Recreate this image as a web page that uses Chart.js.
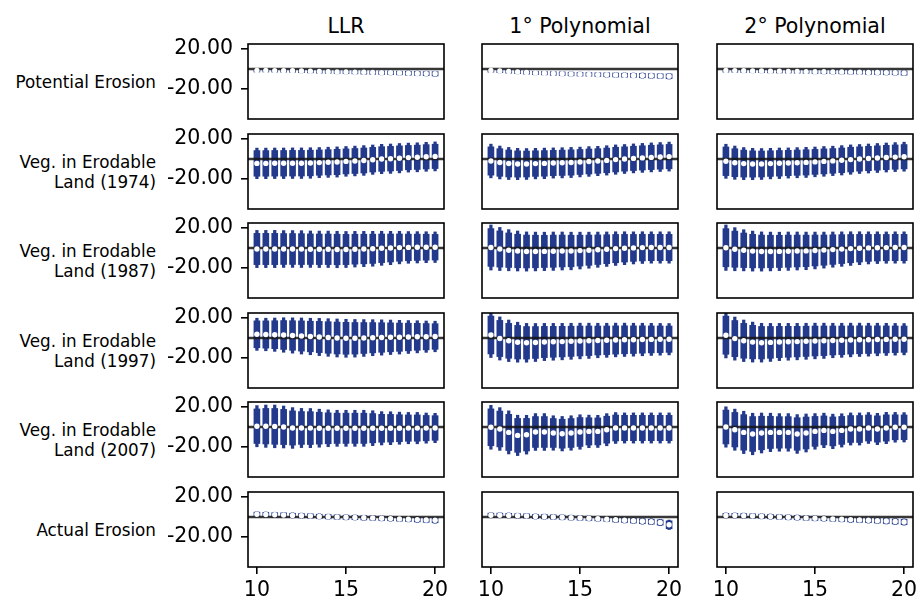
<!DOCTYPE html>
<html><head><meta charset="utf-8">
<script src="https://cdn.jsdelivr.net/npm/chart.js@4/dist/chart.umd.min.js"></script>
<style>
body{margin:0;background:#fff;width:919px;height:603px;position:relative;overflow:hidden;font-family:'DejaVu Sans',sans-serif;color:#000;}
.pan{position:absolute;}
.ct{position:absolute;font-size:20.5px;line-height:24px;text-align:center;width:196px;top:14px;white-space:nowrap;}
.rl{position:absolute;font-size:16.8px;line-height:20px;text-align:right;right:763px;transform:translateY(-50%);white-space:nowrap;}
</style></head><body>
<script>
// ---------- data ----------
const xs = [10,10.5,11,11.5,12,12.5,13,13.5,14,14.5,15,15.5,16,16.5,17,17.5,18,18.5,19,19.5,20];
const xTickVals = [10,15,20];
const yTickVals = [-20,20];
const colTitles = ['LLR','1° Polynomial','2° Polynomial'];
const rowLabels = ['Potential Erosion','Veg. in Erodable\nLand (1974)','Veg. in Erodable\nLand (1987)','Veg. in Erodable\nLand (1997)','Veg. in Erodable\nLand (2007)','Actual Erosion'];

// Potential Erosion
const potEstLLR = [-1.5,-1.5,-1.6,-1.7,-1.8,-2.0,-2.2,-2.5,-2.7,-2.9,-3.0,-3.2,-3.3,-3.5,-3.7,-3.8,-4.0,-4.2,-4.4,-4.6,-4.8];
const potSeLLR  = [0.9,0.9,0.9,0.9,0.9,1.0,1.0,1.0,1.0,1.0,1.0,1.0,1.1,1.1,1.1,1.1,1.1,1.2,1.2,1.2,1.3];
const potEstP1  = [-1.5,-2.0,-2.5,-3.0,-3.5,-4.0,-4.2,-4.5,-4.7,-5.0,-5.2,-5.4,-5.6,-5.8,-6.0,-6.2,-6.4,-6.6,-6.8,-7.0,-7.3];
const potSeP1   = [1.0,1.0,1.0,1.0,1.0,1.0,1.0,1.1,1.1,1.1,1.1,1.1,1.1,1.2,1.2,1.2,1.2,1.3,1.3,1.3,1.4];
const potEstP2  = [-1.5,-1.6,-1.8,-1.9,-2.0,-2.2,-2.3,-2.4,-2.5,-2.6,-2.7,-2.8,-2.9,-3.0,-3.1,-3.2,-3.4,-3.5,-3.6,-3.8,-4.0];
const potSeP2   = [1.0,1.0,1.0,1.0,1.0,1.0,1.0,1.0,1.0,1.0,1.1,1.1,1.1,1.1,1.1,1.1,1.2,1.2,1.2,1.2,1.3];
// Veg. 1974
const v74EstLLR = [-4.4,-4.4,-4.3,-4.3,-4.2,-4.2,-4.0,-3.6,-3.3,-3.0,-2.4,-2.0,-1.5,-0.7,0.0,0.3,0.8,1.4,1.7,2.2,2.6];
const v74SeLLR  = [7.8,7.8,7.8,7.8,7.8,7.8,7.8,7.7,7.7,7.7,7.6,7.6,7.6,7.5,7.5,7.5,7.5,7.4,7.4,7.4,7.4];
const v74EstP1  = [-2.0,-3.5,-4.5,-5.0,-5.0,-4.6,-4.4,-4.0,-3.8,-3.5,-3.0,-2.5,-2.0,-1.4,-0.6,0.0,0.6,1.1,1.6,2.0,2.4];
const v74SeP1   = [8.6,8.4,8.2,8.0,7.9,7.8,7.8,7.7,7.7,7.7,7.6,7.6,7.5,7.5,7.5,7.4,7.4,7.4,7.4,7.4,7.4];
const v74EstP2  = [-2.3,-3.7,-4.6,-5.0,-5.0,-4.6,-4.3,-4.0,-3.7,-3.4,-2.9,-2.4,-1.9,-1.3,-0.6,0.0,0.5,1.0,1.5,1.9,2.3];
const v74SeP2   = [8.7,8.5,8.2,8.0,7.9,7.8,7.8,7.7,7.7,7.7,7.6,7.6,7.5,7.5,7.5,7.4,7.4,7.4,7.4,7.4,7.4];
// Veg. 1987
const v87EstLLR = [-1.0,-1.0,-1.0,-1.0,-1.0,-1.1,-1.2,-1.3,-1.3,-1.5,-1.5,-1.2,-1.0,-0.8,-0.3,0.0,0.4,0.6,0.7,0.8,0.8];
const v87SeLLR  = [9.5,9.5,9.5,9.4,9.4,9.4,9.3,9.3,9.3,9.3,9.2,9.1,9.0,8.9,8.7,8.5,8.3,8.1,8.0,7.9,7.8];
const v87EstP1  = [0.5,-1.0,-2.2,-3.0,-3.5,-3.5,-3.4,-3.2,-3.0,-3.0,-2.6,-2.2,-1.7,-1.2,-0.6,-0.2,0.1,0.4,0.5,0.5,0.5];
const v87SeP1   = [11.5,11.0,10.5,10.2,10.0,9.9,9.8,9.8,9.7,9.6,9.4,9.2,9.0,8.8,8.6,8.4,8.2,8.1,8.0,8.0,8.0];
const v87EstP2  = [0.3,-1.2,-2.3,-3.1,-3.5,-3.5,-3.4,-3.2,-3.0,-2.9,-2.5,-2.1,-1.6,-1.1,-0.6,-0.2,0.1,0.3,0.4,0.5,0.5];
const v87SeP2   = [11.6,11.0,10.5,10.2,10.0,9.9,9.8,9.8,9.7,9.6,9.4,9.2,9.0,8.8,8.6,8.4,8.2,8.1,8.0,8.0,8.0];
// Veg. 1997
const v97EstLLR = [3.7,3.5,3.3,3.0,2.5,2.0,1.5,1.0,0.5,0.0,-0.3,-0.3,0.0,0.3,0.5,0.7,0.8,1.0,1.2,1.3,1.5];
const v97SeLLR  = [8.2,8.3,8.5,8.8,9.0,9.2,9.3,9.5,9.6,9.7,9.7,9.6,9.4,9.2,9.0,8.8,8.6,8.4,8.2,8.0,7.8];
const v97EstP1  = [3.0,-0.5,-2.8,-4.2,-4.8,-4.5,-4.0,-3.8,-3.6,-3.3,-3.0,-2.8,-2.5,-2.3,-2.0,-1.8,-1.7,-1.5,-1.4,-1.3,-1.2];
const v97SeP1   = [11.5,11.0,10.6,10.2,9.9,9.7,9.5,9.4,9.3,9.2,9.1,9.0,8.8,8.7,8.6,8.5,8.4,8.3,8.2,8.1,8.0];
const v97EstP2  = [2.8,-0.6,-2.8,-4.1,-4.7,-4.4,-4.0,-3.8,-3.6,-3.3,-3.0,-2.8,-2.5,-2.3,-2.0,-1.8,-1.7,-1.5,-1.4,-1.3,-1.2];
const v97SeP2   = [11.6,11.0,10.6,10.2,9.9,9.7,9.5,9.4,9.3,9.2,9.1,9.0,8.8,8.7,8.6,8.5,8.4,8.3,8.2,8.1,8.0];
// Veg. 2007
const v07EstLLR = [0.8,0.8,0.6,0.0,-1.0,-1.0,-1.1,-1.2,-1.3,-1.3,-1.3,-1.3,-1.3,-1.2,-1.3,-1.2,-1.2,-1.1,-1.1,-1.1,-1.0];
const v07SeLLR  = [10.5,10.8,10.9,10.7,10.4,10.0,10.0,9.7,9.4,9.2,9.2,9.2,9.2,8.9,8.5,8.4,8.2,8.0,8.0,7.7,7.5];
const v07EstP1  = [-0.3,-2.0,-5.4,-8.4,-7.7,-5.0,-5.0,-6.0,-6.7,-6.0,-5.0,-4.4,-4.4,-2.7,-1.0,-1.0,-1.0,-1.0,-1.0,-1.0,-1.0];
const v07SeP1   = [11.2,10.9,11.0,10.3,9.9,9.4,9.4,8.8,8.8,8.8,8.8,8.3,8.2,8.2,7.9,7.7,7.7,7.7,7.7,7.7,7.7];
const v07EstP2  = [0.0,-2.7,-5.4,-7.0,-6.0,-5.4,-5.4,-5.4,-7.0,-6.0,-4.4,-3.4,-4.4,-3.4,-2.0,-2.0,-1.0,-2.0,-1.0,-0.3,-0.3];
const v07SeP2   = [10.3,10.5,10.8,10.6,10.2,9.8,9.6,9.6,9.9,9.7,9.1,8.8,8.8,8.5,8.2,8.2,7.9,8.0,8.0,7.6,7.5];
// Actual Erosion
const actEstLLR = [2.7,2.5,2.2,2.0,1.6,1.3,1.0,0.6,0.3,0.0,-0.3,-0.5,-0.8,-1.0,-1.3,-1.6,-2.0,-2.3,-2.6,-3.0,-3.3];
const actSeLLR  = [1.3,1.3,1.3,1.3,1.3,1.3,1.3,1.3,1.3,1.3,1.3,1.3,1.3,1.3,1.3,1.3,1.3,1.3,1.4,1.4,1.5];
const actEstP1  = [1.7,1.7,1.5,1.2,1.0,0.5,0.3,0.0,-0.3,-0.7,-1.0,-1.3,-1.7,-2.2,-2.7,-3.2,-3.7,-4.2,-4.7,-5.5,-7.8];
const actSeP1   = [1.3,1.3,1.3,1.3,1.3,1.3,1.3,1.3,1.3,1.3,1.3,1.3,1.3,1.3,1.4,1.4,1.4,1.5,1.5,1.6,2.4];
const actEstP2  = [1.5,1.5,1.3,1.0,0.7,0.4,0.0,-0.3,-0.6,-1.0,-1.3,-1.6,-2.0,-2.3,-2.6,-3.0,-3.3,-3.7,-4.0,-4.5,-5.0];
const actSeP2   = [1.3,1.3,1.3,1.3,1.3,1.3,1.3,1.3,1.3,1.3,1.3,1.3,1.3,1.3,1.4,1.4,1.4,1.4,1.5,1.5,1.6];

const panelData = [
  [[potEstLLR,potSeLLR],[potEstP1,potSeP1],[potEstP2,potSeP2]],
  [[v74EstLLR,v74SeLLR],[v74EstP1,v74SeP1],[v74EstP2,v74SeP2]],
  [[v87EstLLR,v87SeLLR],[v87EstP1,v87SeP1],[v87EstP2,v87SeP2]],
  [[v97EstLLR,v97SeLLR],[v97EstP1,v97SeP1],[v97EstP2,v97SeP2]],
  [[v07EstLLR,v07SeLLR],[v07EstP1,v07SeP1],[v07EstP2,v07SeP2]],
  [[actEstLLR,actSeLLR],[actEstP1,actSeP1],[actEstP2,actSeP2]]
];

// ---------- layout / style ----------
const X_MIN = 9.5, X_MAX = 20.5, Y_MIN = -50, Y_MAX = 25;
const colLeft = [248, 482, 717];
const rowTop = [44, 134, 223, 313, 402, 492];
const PW = 196, PH = 75;
const BLUE = 'rgb(35,58,140)';
const FONT = "'DejaVu Sans', sans-serif";
Chart.defaults.font.family = FONT;
Chart.defaults.color = '#000';

const boxPlugin = {
  id: 'box',
  afterDatasetsDraw(ch) {
    const a = ch.chartArea, ctx = ch.ctx;
    ctx.save();
    ctx.strokeStyle = '#000';
    ctx.lineWidth = 1.6;
    ctx.strokeRect(a.left, a.top, a.right - a.left, a.bottom - a.top);
    ctx.restore();
  }
};

// titles
colTitles.forEach((t, c) => {
  const d = document.createElement('div');
  d.className = 'ct';
  d.style.left = colLeft[c] + 'px';
  d.textContent = t;
  document.body.appendChild(d);
});
rowLabels.forEach((t, r) => {
  const d = document.createElement('div');
  d.className = 'rl';
  d.style.top = (rowTop[r] + PH / 2) + 'px';
  d.innerHTML = t.split('\n').map(s => s.replace(/&/g,'&amp;')).join('<br>');
  document.body.appendChild(d);
});

for (let r = 0; r < 6; r++) {
  for (let c = 0; c < 3; c++) {
    const [est, se] = panelData[r][c];
    const showY = c === 0, showX = r === 5;
    const yW = showY ? 100 : 0;
    const xH = showX ? 34 : 0;
    const padL = showY ? 0 : 3, padT = 12, padR = 3, padB = 3;
    const W = padL + yW + PW + padR, H = padT + PH + xH + padB;
    const div = document.createElement('div');
    div.className = 'pan';
    div.style.left = (colLeft[c] - padL - yW) + 'px';
    div.style.top = (rowTop[r] - padT) + 'px';
    div.style.width = W + 'px';
    div.style.height = H + 'px';
    const cv = document.createElement('canvas');
    cv.width = W; cv.height = H;
    cv.style.width = W + 'px'; cv.style.height = H + 'px';
    div.appendChild(cv);
    document.body.appendChild(div);

    new Chart(cv.getContext('2d'), {
      type: 'bar',
      data: {
        datasets: [
          { type: 'bar', order: 4, grouped: false, barThickness: 2.6, backgroundColor: BLUE, borderWidth: 0,
            data: xs.map((x, i) => ({ x, y: [est[i] - 1.96 * se[i], est[i] + 1.96 * se[i]] })) },
          { type: 'bar', order: 3, grouped: false, barThickness: 6, backgroundColor: BLUE, borderWidth: 0,
            data: xs.map((x, i) => ({ x, y: [est[i] - 1.645 * se[i], est[i] + 1.645 * se[i]] })) },
          { type: 'line', order: 2, borderColor: 'rgba(20,20,20,0.85)', borderWidth: 2.6, pointRadius: 0,
            data: [X_MIN, X_MAX].map(x => ({ x, y: 0 })) },
          { type: 'line', order: 1, showLine: false, pointRadius: 2.7, pointBackgroundColor: '#fff',
            pointBorderWidth: 0, borderColor: '#fff',
            data: xs.map((x, i) => ({ x, y: est[i] })) }
        ]
      },
      options: {
        responsive: false, animation: false, events: [],
        layout: { autoPadding: false, padding: { left: padL, top: padT, right: padR, bottom: padB } },
        plugins: { legend: { display: false }, tooltip: { enabled: false } },
        scales: {
          x: {
            type: 'linear', min: X_MIN, max: X_MAX, offset: false, display: showX,
            afterFit(s) { s.height = showX ? xH : 0; s.paddingLeft = 0; s.paddingRight = 0; },
            afterBuildTicks(s) { s.ticks = xTickVals.map(v => ({ value: v })); },
            ticks: { font: { size: 20.5 }, color: '#000', padding: 4, maxRotation: 0, autoSkip: false,
                     callback: v => String(v) },
            grid: { offset: false, drawOnChartArea: false, drawTicks: true, tickLength: 7, color: '#000', lineWidth: 1.6 },
            border: { display: false }
          },
          y: {
            type: 'linear', min: Y_MIN, max: Y_MAX, display: showY,
            afterFit(s) { s.width = showY ? yW : 0; s.paddingTop = 0; s.paddingBottom = 0; },
            afterBuildTicks(s) { s.ticks = yTickVals.map(v => ({ value: v })); },
            ticks: { font: { size: 20.5 }, color: '#000', padding: 8, callback: v => Number(v).toFixed(2) },
            grid: { drawOnChartArea: false, drawTicks: true, tickLength: 7, color: '#000', lineWidth: 1.6 },
            border: { display: false }
          }
        }
      },
      plugins: [boxPlugin]
    });
  }
}
</script>
</body></html>
